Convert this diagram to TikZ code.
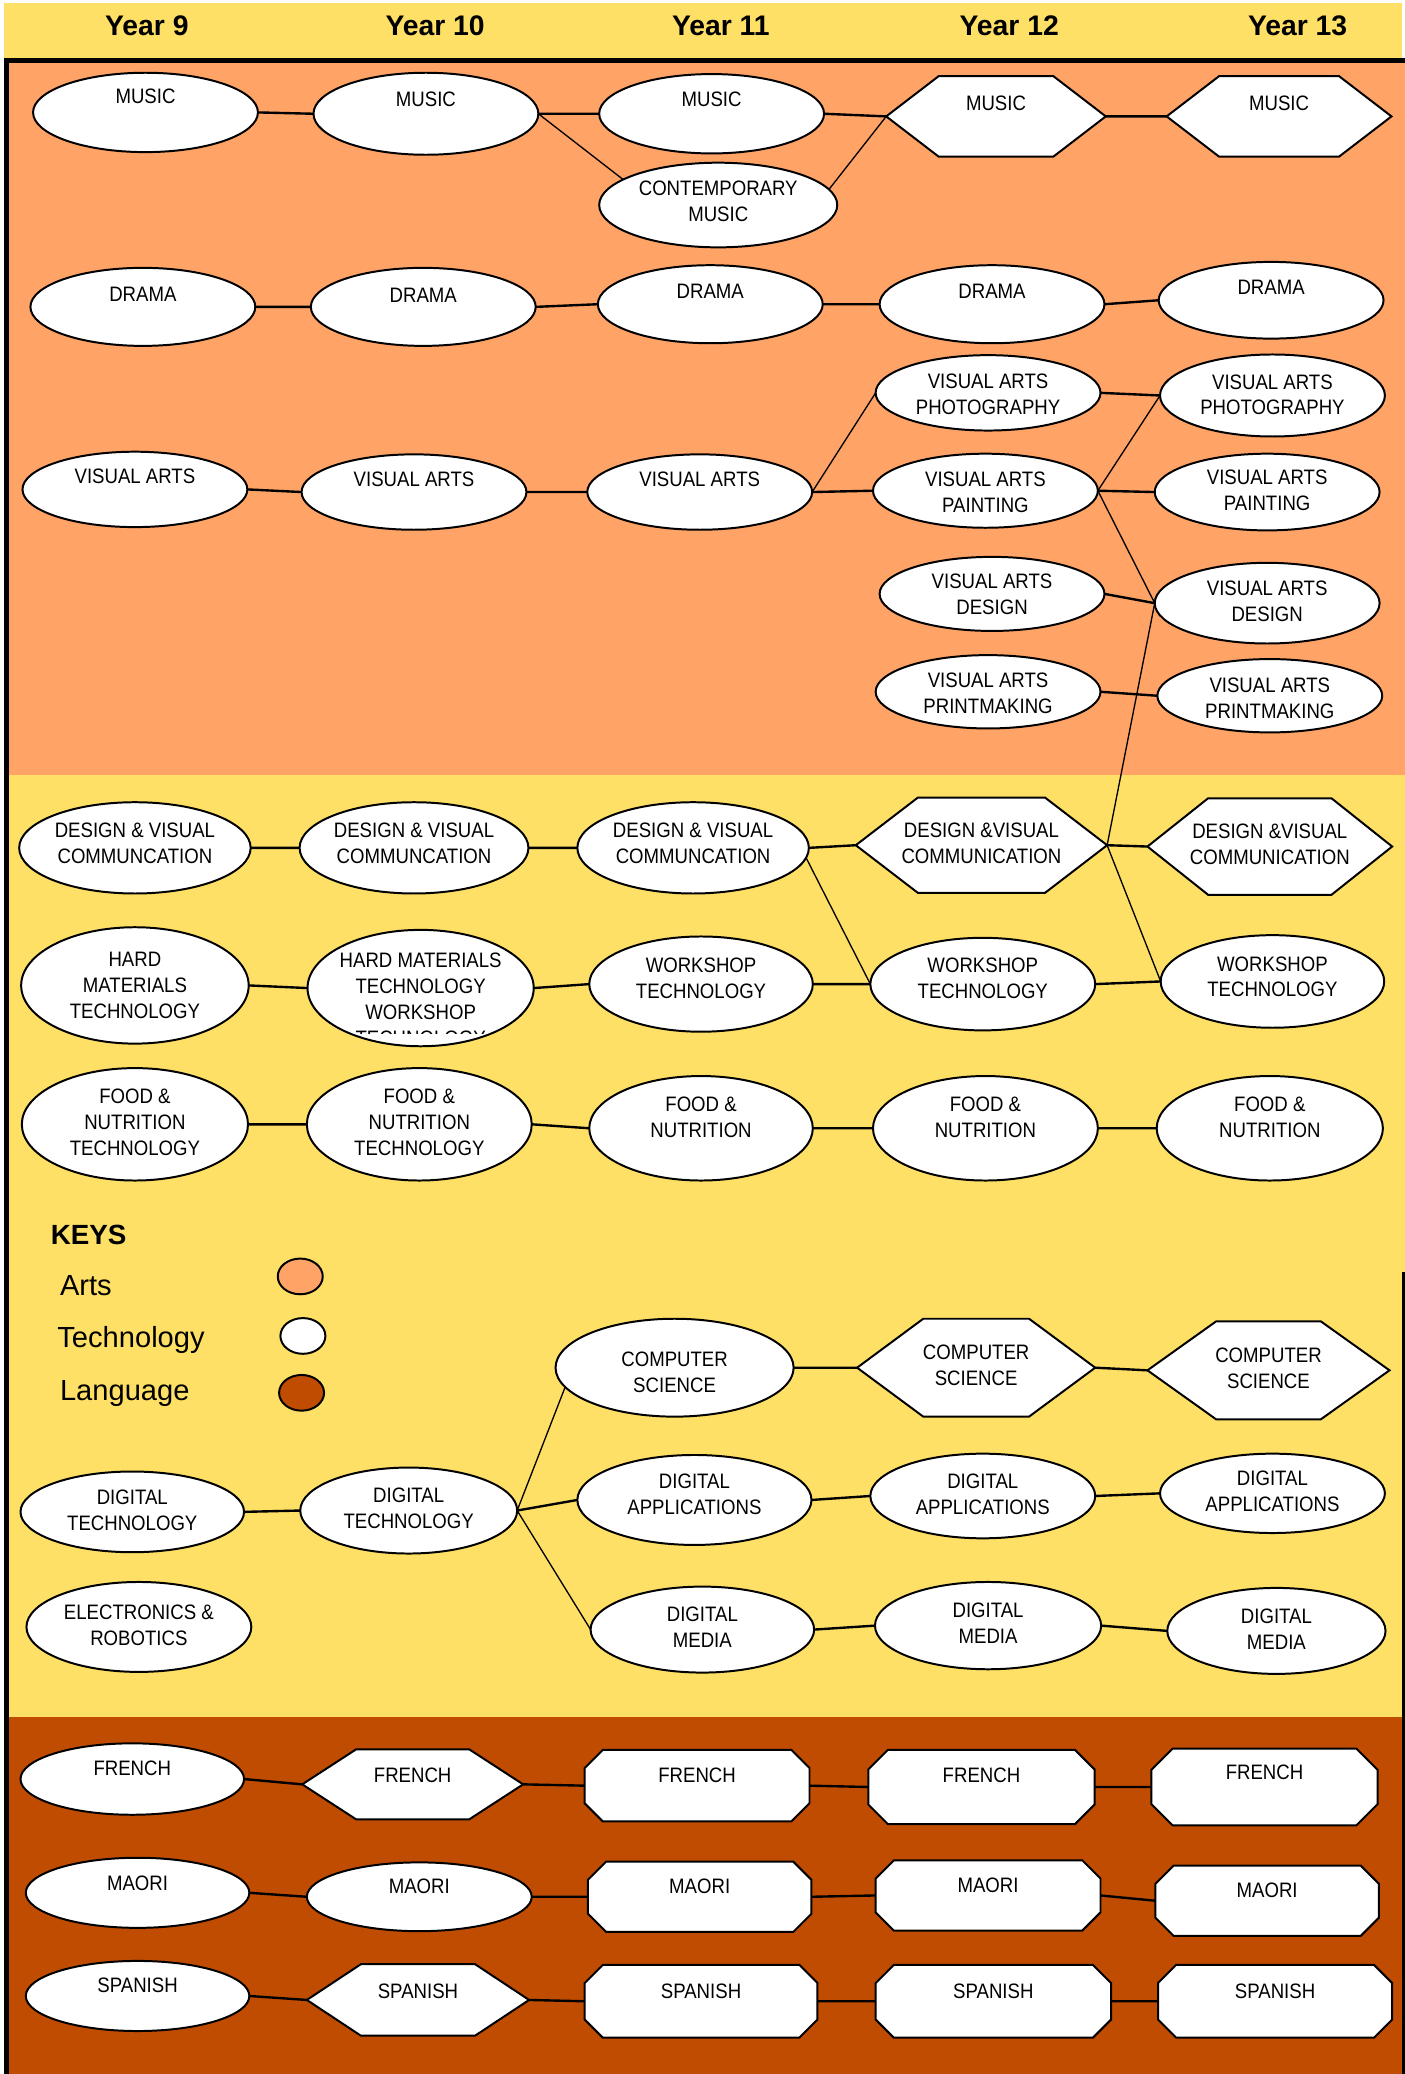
\documentclass[tikz,border=0pt]{standalone}
\usepackage{fontspec}
\setmainfont{Liberation Sans}
\newfontfamily\nodefont[FakeStretch=0.89]{Liberation Sans}
\usetikzlibrary{shapes.geometric,shapes.symbols,shapes.misc}
\definecolor{artsc}{HTML}{FFA366}
\definecolor{techc}{HTML}{FFE066}
\definecolor{langc}{HTML}{BF4C00}
\newcommand\T[2][0pt]{\makebox[0pt]{\raisebox{#1}[\height][\depth]{\begin{tabular}{@{}c@{}}#2\end{tabular}}}}
\tikzset{
 nbase/.style={draw=black, line width=0.75pt, fill=white, inner sep=0pt, outer sep=0pt, font=\nodefont\fontsize{7.9}{9.8}\selectfont},
 nel/.style 2 args={nbase, ellipse, minimum width=#1, minimum height=#2},
 nhx/.style n args={3}{nbase, signal, signal to=west and east, signal pointer angle=#3, minimum width=#1, minimum height=#2},
 noc/.style 2 args={nbase, chamfered rectangle, chamfered rectangle xsep=8pt, chamfered rectangle ysep=8pt, minimum width=#1, minimum height=#2},
 tup/.style={text height=5.7pt, text depth=#1pt},
 hline/.style={line width=0.9pt},
 dline/.style={line width=0.5pt},
 yearhead/.style={font=\bfseries\fontsize{10.7}{12}\selectfont, inner sep=0pt, anchor=base},
 keytxt/.style={font=\fontsize{11}{13}\selectfont, inner sep=0pt, anchor=base west},
 keydot/.style={draw=black, line width=0.75pt, ellipse, minimum width=17pt, minimum height=13.5pt, inner sep=0pt},
}
\begin{document}
\begin{tikzpicture}[x=0.5pt,y=-0.5pt]
\useasboundingbox (0,0) rectangle (1062,1568);
% backgrounds
\fill[techc] (3,2) rectangle (1060,44);
\fill[artsc] (5,46) rectangle (1062,586);
\fill[techc] (5,586) rectangle (1062,1298);
\fill[langc] (5,1298) rectangle (1062,1568);
\draw[line width=2pt] (3,46) -- (1062,46);
\draw[line width=2pt] (5,45) -- (5,1568);
\draw[line width=1pt] (1061,962) -- (1061,1568);
% headers
\node[yearhead] (h9) at (111,26.5) {Year 9};
\node[yearhead] (h10) at (329,26.5) {Year 10};
\node[yearhead] (h11) at (545,26.5) {Year 11};
\node[yearhead] (h12) at (763,26.5) {Year 12};
\node[yearhead] (h13) at (981,26.5) {Year 13};
% ---------- Arts
\node[nel={85pt}{30pt},tup=12] (m9) at (110,85) {\T{MUSIC}};
\node[nel={85pt}{31pt},tup=11] (m10) at (322,86) {\T{MUSIC}};
\node[nel={85pt}{30pt},tup=11] (m11) at (538,86) {\T{MUSIC}};
\node[nel={90pt}{32pt}] (cm11) at (543,155) {\T[0.7pt]{CONTEMPORARY\\MUSIC}};
\node[nhx={83pt}{30.5pt}{75},tup=10] (m12) at (753,88) {\T{MUSIC}};
\node[nhx={85pt}{30.5pt}{75},tup=10] (m13) at (967,88) {\T{MUSIC}};
\node[nel={85pt}{29.5pt},tup=10] (d9) at (108,232) {\T{DRAMA}};
\node[nel={85pt}{29.5pt},tup=9] (d10) at (320,232) {\T{DRAMA}};
\node[nel={85pt}{29.5pt},tup=10] (d11) at (537,230) {\T{DRAMA}};
\node[nel={85pt}{29.5pt},tup=10] (d12) at (750,230) {\T{DRAMA}};
\node[nel={85pt}{29pt},tup=10] (d13) at (961,227) {\T{DRAMA}};
\node[nel={85pt}{28.5pt},tup=10] (va9) at (102,370) {\T{VISUAL ARTS}};
\node[nel={85pt}{28.5pt},tup=10] (va10) at (313,372) {\T{VISUAL ARTS}};
\node[nel={85pt}{28.5pt},tup=10] (va11) at (529,372) {\T{VISUAL ARTS}};
\node[nel={85pt}{28.5pt}] (vap12) at (747,297) {\T[-1.2pt]{VISUAL ARTS\\PHOTOGRAPHY}};
\node[nel={85pt}{28pt}] (vapa12) at (745,371) {\T[-1.2pt]{VISUAL ARTS\\PAINTING}};
\node[nel={85pt}{28pt}] (vad12) at (750,449) {\T[-1pt]{VISUAL ARTS\\DESIGN}};
\node[nel={85pt}{27pt}] (vapr12) at (747,523) {\T[-1.2pt]{VISUAL ARTS\\PRINTMAKING}};
\node[nel={85pt}{31pt}] (vap13) at (962,299) {\T[-0.5pt]{VISUAL ARTS\\PHOTOGRAPHY}};
\node[nel={85pt}{29pt}] (vapa13) at (958,372) {\T{VISUAL ARTS\\PAINTING}};
\node[nel={85pt}{30.5pt}] (vad13) at (958,456) {\T{VISUAL ARTS\\DESIGN}};
\node[nel={85pt}{27pt}] (vapr13) at (960,526) {\T[-1.7pt]{VISUAL ARTS\\PRINTMAKING}};
% ---------- Technology
\node[nel={87.5pt}{34.5pt}] (dvc9) at (102,641) {\T[1pt]{DESIGN \& VISUAL\\COMMUNCATION}};
\node[nel={86.5pt}{34.5pt}] (dvc10) at (313,641) {\T[1pt]{DESIGN \& VISUAL\\COMMUNCATION}};
\node[nel={87.5pt}{34.5pt}] (dvc11) at (524,641) {\T[1pt]{DESIGN \& VISUAL\\COMMUNCATION}};
\node[nhx={95pt}{36pt}{75}] (dvc12) at (742,639) {\T{DESIGN \&VISUAL\\COMMUNICATION}};
\node[nhx={92.5pt}{36.5pt}{77}] (dvc13) at (960,640) {\T{DESIGN \&VISUAL\\COMMUNICATION}};
\node[nel={86pt}{44pt}] (hmt9) at (102,745) {\T[-0.8pt]{HARD\\MATERIALS\\TECHNOLOGY}};
\node[nel={85.5pt}{44pt}] (hmt10) at (318,747) {};
\begin{scope}
\clip (230,700) rectangle (406,781.5);
\node[nbase,draw=none,fill=none] (hmt10t) at (318,757) {\T{HARD MATERIALS\\TECHNOLOGY\\WORKSHOP\\TECHNOLOGY}};
\end{scope}
\node[nel={84.5pt}{36pt}] (ws11) at (530,744) {\T[1.5pt]{WORKSHOP\\TECHNOLOGY}};
\node[nel={85pt}{35pt}] (ws12) at (743,744) {\T[1.5pt]{WORKSHOP\\TECHNOLOGY}};
\node[nel={84.5pt}{35pt}] (ws13) at (962,742) {\T[1pt]{WORKSHOP\\TECHNOLOGY}};
\node[nel={85.5pt}{42.5pt}] (fn9) at (102,850) {\T{FOOD \&\\NUTRITION\\TECHNOLOGY}};
\node[nel={85pt}{42.5pt}] (fn10) at (317,850) {\T{FOOD \&\\NUTRITION\\TECHNOLOGY}};
\node[nel={84.5pt}{39.5pt}] (fn11) at (530,853) {\T[3.5pt]{FOOD \&\\NUTRITION}};
\node[nel={85pt}{39.5pt}] (fn12) at (745,853) {\T[3.5pt]{FOOD \&\\NUTRITION}};
\node[nel={85.5pt}{39.5pt}] (fn13) at (960,853) {\T[3.5pt]{FOOD \&\\NUTRITION}};
% keys
\node[font=\bfseries\fontsize{10.5}{12}\selectfont, inner sep=0pt, anchor=base west] (keys) at (38,941) {KEYS};
\node[keytxt] (karts) at (45,979.6) {Arts};
\node[keytxt] (ktech) at (43,1019) {Technology};
\node[keytxt] (klang) at (45,1059) {Language};
\node[keydot, fill=artsc] (kartsdot) at (227,965) {};
\node[keydot, fill=white] (ktechdot) at (229,1010) {};
\node[keydot, fill=langc] (klangdot) at (228,1053) {};
% digital
\node[nel={90pt}{37pt}] (cs11) at (510,1034) {\T[-2.5pt]{COMPUTER\\SCIENCE}};
\node[nhx={90pt}{37pt}{73}] (cs12) at (738,1034) {\T{COMPUTER\\SCIENCE}};
\node[nhx={91.5pt}{37pt}{71}] (cs13) at (959,1036) {\T{COMPUTER\\SCIENCE}};
\node[nel={84.5pt}{30.5pt}] (dt9) at (100,1143) {\T{DIGITAL\\TECHNOLOGY}};
\node[nel={82pt}{32.5pt}] (dt10) at (309,1142) {\T{DIGITAL\\TECHNOLOGY}};
\node[nel={88.5pt}{34pt}] (da11) at (525,1134) {\T[1.5pt]{DIGITAL\\APPLICATIONS}};
\node[nel={85pt}{32pt}] (da12) at (743,1131) {\T{DIGITAL\\APPLICATIONS}};
\node[nel={85pt}{30pt}] (da13) at (962,1129) {\T{DIGITAL\\APPLICATIONS}};
\node[nel={84.5pt}{32.5pt}] (dm11) at (531,1232) {\T{DIGITAL\\MEDIA}};
\node[nel={85.5pt}{33pt}] (dm12) at (747,1229) {\T{DIGITAL\\MEDIA}};
\node[nel={82.5pt}{32.5pt}] (dm13) at (965,1233) {\T{DIGITAL\\MEDIA}};
\node[nel={85pt}{34pt}] (er9) at (105,1230) {\T{ELECTRONICS \&\\ROBOTICS}};
% ---------- Language
\node[nel={84.5pt}{27pt},tup=8] (fr9) at (100,1345) {\T{FRENCH}};
\node[nhx={83.5pt}{26.5pt}{66},tup=7] (fr10) at (312,1349) {\T{FRENCH}};
\node[noc={85pt}{27pt},tup=8] (fr11) at (527,1350) {\T{FRENCH}};
\node[noc={85.5pt}{28pt},tup=9] (fr12) at (742,1351) {\T{FRENCH}};
\node[noc={85.5pt}{29pt},tup=11] (fr13) at (956,1351) {\T{FRENCH}};
\node[nel={84.5pt}{26.5pt},tup=7] (ma9) at (104,1431) {\T{MAORI}};
\node[nel={85pt}{26pt},tup=8] (ma10) at (317,1434) {\T{MAORI}};
\node[noc={84.5pt}{26.5pt},tup=8] (ma11) at (529,1434) {\T{MAORI}};
\node[noc={85pt}{26.5pt},tup=8] (ma12) at (747,1433) {\T{MAORI}};
\node[noc={84.5pt}{26.5pt},tup=8] (ma13) at (958,1437) {\T{MAORI}};
\node[nel={84.5pt}{26.5pt},tup=8] (sp9) at (104,1509) {\T{SPANISH}};
\node[nhx={84pt}{27pt}{67},tup=7] (sp10) at (316,1512) {\T{SPANISH}};
\node[noc={88pt}{27.5pt},tup=8] (sp11) at (530,1513) {\T{SPANISH}};
\node[noc={89pt}{27.5pt},tup=8] (sp12) at (751,1513) {\T{SPANISH}};
\node[noc={88.5pt}{27.5pt},tup=8] (sp13) at (964,1513) {\T{SPANISH}};
% ---------- connectors
\draw[hline] (m9.east) -- (m10.west) (m10.east) -- (m11.west) (m11.east) -- (m12.west) (m12.east) -- (m13.west);
\draw[dline] (m10.east) -- (cm11.165) (cm11.8) -- (m12.west);
\draw[hline] (d9.east) -- (d10.west) (d10.east) -- (d11.west) (d11.east) -- (d12.west) (d12.east) -- (d13.west);
\draw[hline] (va9.east) -- (va10.west) (va10.east) -- (va11.west) (va11.east) -- (vapa12.west);
\draw[dline] (va11.east) -- (vap12.west);
\draw[hline] (vap12.east) -- (vap13.west) (vapa12.east) -- (vapa13.west) (vad12.east) -- (vad13.west) (vapr12.east) -- (vapr13.west);
\draw[dline] (vapa12.east) -- (vap13.west) (vapa12.east) -- (vad13.west) (vad13.west) -- (dvc12.east) (dvc12.east) -- (ws13.west);
\draw[hline] (dvc9.east) -- (dvc10.west) (dvc10.east) -- (dvc11.west) (dvc11.east) -- (dvc12.west) (dvc12.east) -- (dvc13.west);
\draw[dline] (dvc11.355) -- (ws12.west);
\draw[hline] (hmt9.east) -- (hmt10.west) (hmt10.east) -- (ws11.west) (ws11.east) -- (ws12.west) (ws12.east) -- (ws13.west);
\draw[hline] (fn9.east) -- (fn10.west) (fn10.east) -- (fn11.west) (fn11.east) -- (fn12.west) (fn12.east) -- (fn13.west);
\draw[hline] (cs11.east) -- (cs12.west) (cs12.east) -- (cs13.west);
\draw[hline] (dt9.east) -- (dt10.west) (dt10.east) -- (da11.west) (da11.east) -- (da12.west) (da12.east) -- (da13.west);
\draw[hline] (dm11.east) -- (dm12.west) (dm12.east) -- (dm13.west);
\draw[dline] (dt10.east) -- (cs11.190) (dt10.east) -- (dm11.west);
\draw[hline] (fr9.east) -- (fr10.west) (fr10.east) -- (fr11.west) (fr11.east) -- (fr12.west) (fr12.east) -- (fr13.west);
\draw[hline] (ma9.east) -- (ma10.west) (ma10.east) -- (ma11.west) (ma11.east) -- (ma12.west) (ma12.east) -- (ma13.west);
\draw[hline] (sp9.east) -- (sp10.west) (sp10.east) -- (sp11.west) (sp11.east) -- (sp12.west) (sp12.east) -- (sp13.west);
\end{tikzpicture}
\end{document}
